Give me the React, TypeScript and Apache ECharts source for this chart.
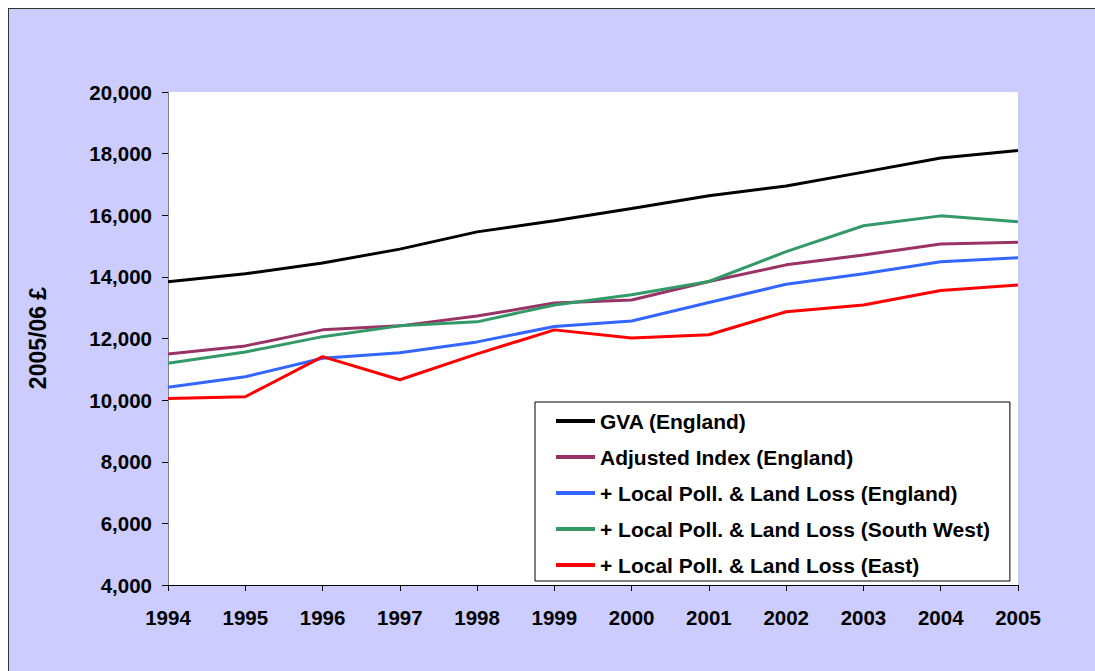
import React, { useEffect, useRef } from "react";
import * as echarts from "echarts";

const years = ["1994","1995","1996","1997","1998","1999","2000","2001","2002","2003","2004","2005"];
const gvaEngland = [13840, 14100, 14450, 14900, 15460, 15820, 16220, 16630, 16950, 17400, 17860, 18100];
const adjustedEngland = [11500, 11760, 12280, 12410, 12730, 13150, 13250, 13850, 14390, 14710, 15070, 15120];
const lplEngland = [10420, 10760, 11360, 11540, 11890, 12390, 12570, 13170, 13760, 14100, 14490, 14620];
const lplSouthWest = [11200, 11560, 12060, 12410, 12540, 13090, 13420, 13850, 14820, 15660, 15980, 15790];
const lplEast = [10050, 10110, 11410, 10660, 11500, 12280, 12020, 12120, 12870, 13090, 13560, 13740];

const seriesNames = [
  "GVA (England)",
  "Adjusted Index (England)",
  "+ Local Poll. & Land Loss (England)",
  "+ Local Poll. & Land Loss (South West)",
  "+ Local Poll. & Land Loss (East)",
];
const seriesColors = ["#000000", "#993366", "#3366FF", "#339966", "#FF0000"];
const seriesData = [gvaEngland, adjustedEngland, lplEngland, lplSouthWest, lplEast];

export default function App() {
  const ref = useRef<HTMLDivElement>(null);
  useEffect(() => {
    if (!ref.current) return;
    const chart = echarts.init(ref.current, undefined, { renderer: "svg" });
    const font = "Arial, 'Liberation Sans', sans-serif";
    chart.setOption({
      animation: false,
      backgroundColor: "#CCCCFF",
      grid: {
        left: 159,
        top: 83,
        width: 850,
        height: 493,
        show: true,
        backgroundColor: "#FFFFFF",
        borderWidth: 0,
        containLabel: false,
      },
      xAxis: {
        type: "category",
        data: years,
        boundaryGap: false,
        axisLine: { lineStyle: { color: "#000000", width: 1 } },
        axisTick: { show: true, length: 6, alignWithLabel: true, lineStyle: { color: "#000000" } },
        axisLabel: { color: "#000000", fontSize: 20.5, fontWeight: "bold", fontFamily: font, margin: 22 },
        splitLine: { show: false },
      },
      yAxis: {
        type: "value",
        min: 4000,
        max: 20000,
        interval: 2000,
        axisLine: { show: true, lineStyle: { color: "#808080", width: 1 } },
        axisTick: { show: true, length: 6, lineStyle: { color: "#000000" } },
        axisLabel: {
          color: "#000000",
          fontSize: 20.5,
          fontWeight: "bold",
          fontFamily: font,
          margin: 16,
          formatter: (v: number) => v.toLocaleString("en-US"),
        },
        splitLine: { show: false },
      },
      legend: {
        orient: "vertical",
        left: 526,
        top: 393,
        backgroundColor: "#FFFFFF",
        borderColor: "#000000",
        borderWidth: 1,
        borderRadius: 0,
        padding: [8, 20, 5, 21],
        itemGap: 14,
        itemWidth: 39,
        itemHeight: 4,
        icon: "rect",
        data: seriesNames,
        textStyle: {
          color: "#000000",
          fontSize: 21,
          fontWeight: "bold",
          fontFamily: font,
          lineHeight: 22,
        },
      },
      graphic: [
        {
          type: "text",
          x: 29,
          y: 329,
          rotation: Math.PI / 2,
          style: {
            text: "2005/06 £",
            fontSize: 23,
            fontWeight: "bold",
            fontFamily: font,
            fill: "#000000",
            align: "center",
            verticalAlign: "middle",
          },
        },
      ],
      series: seriesNames.map((name, i) => ({
        name,
        type: "line",
        data: seriesData[i],
        symbol: "none",
        lineStyle: { color: seriesColors[i], width: 3 },
        itemStyle: { color: seriesColors[i] },
      })),
    });
    return () => chart.dispose();
  }, []);
  return (
    <div
      style={{
        position: "fixed",
        left: 8,
        top: 8,
        width: 1087,
        height: 663,
        boxSizing: "border-box",
        borderTop: "1px solid #333333",
        borderLeft: "1px solid #333333",
        background: "#CCCCFF",
      }}
    >
      <div ref={ref} style={{ width: "100%", height: "100%" }} />
    </div>
  );
}
